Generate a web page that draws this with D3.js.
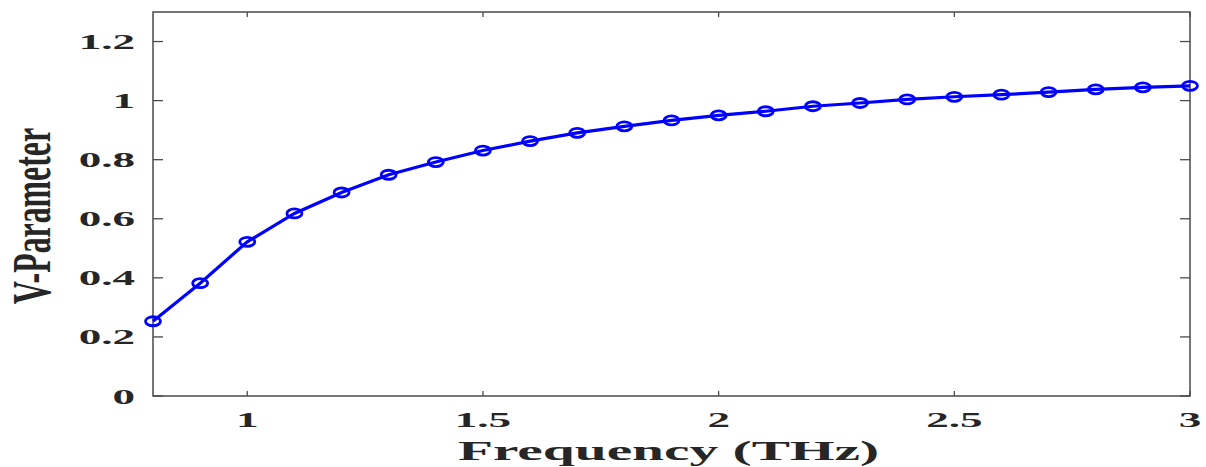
<!DOCTYPE html>
<html>
<head>
<meta charset="utf-8">
<script src="https://cdn.jsdelivr.net/npm/d3@7"></script>
<style>
  html, body { margin: 0; padding: 0; background: #fff; }
  svg { display: block; }
  .tick-label { font-family: "Liberation Serif", "Times New Roman", serif; font-weight: bold; fill: #262626; }
</style>
</head>
<body>
<div id="chart"></div>
<script>
// Frequency sweep (THz) and V-parameter
const frequency = [0.8, 0.9, 1.0, 1.1, 1.2, 1.3, 1.4, 1.5, 1.6, 1.7, 1.8, 1.9,
                   2.0, 2.1, 2.2, 2.3, 2.4, 2.5, 2.6, 2.7, 2.8, 2.9, 3.0];
const vParameter = [0.253, 0.382, 0.522, 0.618, 0.689, 0.749, 0.792, 0.831, 0.863, 0.891, 0.913, 0.933,
                    0.950, 0.964, 0.981, 0.992, 1.004, 1.013, 1.020, 1.029, 1.038, 1.045, 1.050];
const xTicks = [1, 1.5, 2, 2.5, 3];
const yTicks = [0, 0.2, 0.4, 0.6, 0.8, 1, 1.2];

const width = 1206;
const height = 467;
const margin = { top: 12, right: 16, bottom: 71, left: 153 };
const innerW = width - margin.left - margin.right;
const innerH = height - margin.top - margin.bottom;

// the source image is stretched sideways, so text is widened too
const stretch = 2.05;
const axisColor = "#4a4a4a";

const x = d3.scaleLinear().domain([0.8, 3]).range([0, innerW]);
const y = d3.scaleLinear().domain([0, 1.3]).range([innerH, 0]);

const svg = d3.select("#chart").append("svg")
  .attr("width", width)
  .attr("height", height);

const g = svg.append("g").attr("transform", `translate(${margin.left},${margin.top})`);

// Ticks (inward, on all four sides)
yTicks.forEach((t) => {
  g.append("line").attr("x1", 0).attr("x2", 10).attr("y1", y(t)).attr("y2", y(t))
    .attr("stroke", axisColor).attr("stroke-width", 1.3);
  g.append("line").attr("x1", innerW).attr("x2", innerW - 10).attr("y1", y(t)).attr("y2", y(t))
    .attr("stroke", axisColor).attr("stroke-width", 1.3);
  g.append("text")
    .attr("class", "tick-label")
    .attr("transform", `translate(-18,${y(t) + 7.5}) scale(${stretch},1)`)
    .attr("text-anchor", "end")
    .style("font-size", "22px")
    .text(d3.format("~g")(t));
});

xTicks.forEach((t) => {
  g.append("line").attr("x1", x(t)).attr("x2", x(t)).attr("y1", innerH).attr("y2", innerH - 5)
    .attr("stroke", axisColor).attr("stroke-width", 1.3);
  g.append("line").attr("x1", x(t)).attr("x2", x(t)).attr("y1", 0).attr("y2", 5)
    .attr("stroke", axisColor).attr("stroke-width", 1.3);
  g.append("text")
    .attr("class", "tick-label")
    .attr("transform", `translate(${x(t)},${innerH + 31}) scale(${stretch},1)`)
    .attr("text-anchor", "middle")
    .style("font-size", "22px")
    .text(d3.format("~g")(t));
});

// Box
g.append("rect")
  .attr("x", 0).attr("y", 0)
  .attr("width", innerW).attr("height", innerH)
  .attr("fill", "none")
  .attr("stroke", axisColor)
  .attr("stroke-width", 1.5);

// Line
const line = d3.line()
  .x((d, i) => x(frequency[i]))
  .y((d) => y(d));

g.append("path")
  .datum(vParameter)
  .attr("d", line)
  .attr("fill", "none")
  .attr("stroke", "#0000ff")
  .attr("stroke-width", 3.2);

// Circle markers (squashed like the source)
g.selectAll(".marker")
  .data(vParameter)
  .enter()
  .append("ellipse")
  .attr("class", "marker")
  .attr("cx", (d, i) => x(frequency[i]))
  .attr("cy", (d) => y(d))
  .attr("rx", 7.5)
  .attr("ry", 4.5)
  .attr("fill", "none")
  .attr("stroke", "#0000ff")
  .attr("stroke-width", 2.8);

// Axis labels
svg.append("text")
  .attr("class", "tick-label")
  .attr("transform", `translate(${margin.left + innerW / 2 - 3},${height - 7}) scale(${stretch},1)`)
  .attr("text-anchor", "middle")
  .style("font-size", "28px")
  .text("Frequency (THz)");

// rotated label: tall, narrow glyphs
svg.append("text")
  .attr("class", "tick-label")
  .attr("transform", `translate(50,${margin.top + innerH / 2 + 12}) rotate(-90)`)
  .attr("text-anchor", "middle")
  .attr("textLength", 176)
  .attr("lengthAdjust", "spacingAndGlyphs")
  .style("font-size", "54px")
  .text("V-Parameter");
</script>
</body>
</html>
